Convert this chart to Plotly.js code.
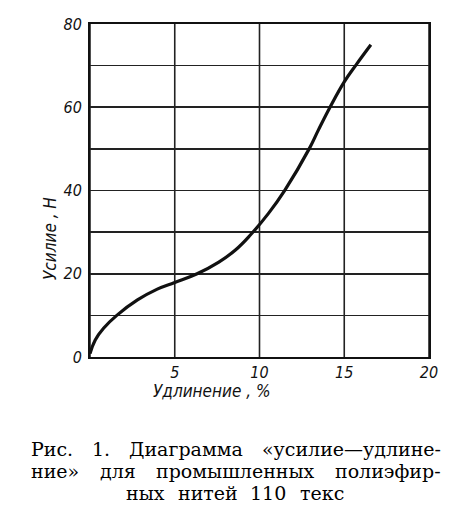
<!DOCTYPE html>
<html>
<head>
<meta charset="utf-8">
<script src="https://cdn.plot.ly/plotly-3.0.1.min.js"></script>
<style>html,body{margin:0;padding:0;background:#fff;}#chart{width:476px;height:513px;}</style>
</head>
<body>
<div id="chart"></div>
<script>
// Elongation, % and force, N
const elongation = [0, 0.31, 0.8, 1.58, 2.8, 3.97, 5.0, 6.32, 7.6, 8.58, 9.46, 10.53, 11.5, 12.93, 13.47, 14.16, 15.0, 15.72, 16.57];
const force =      [0.8, 4.1, 6.9, 10.0, 13.7, 16.3, 17.9, 20.0, 22.8, 25.7, 29.3, 34.5, 40.1, 50.0, 54.5, 60.0, 66.1, 70.3, 75.0];
const xTickVals = [5, 10, 15, 20];
const xGridVals = [0, 5, 10, 15, 20];
const yTickVals = [0, 10, 20, 30, 40, 50, 60, 70, 80];
const yTickText = ['0', '', '20', '', '40', '', '60', '', '80'];
const xTitle = 'Удлинение , %';
const yTitle = 'Усилие , Н';
const captionLines = ['Рис. 1. Диаграмма «усилие—удлине-', 'ние» для промышленных полиэфир-', 'ных нитей 110 текс'];

const tickFont = {family: 'DejaVu Sans Condensed, DejaVu Sans', size: 16, color: '#111', style: 'italic'};
const titleFont = {family: 'DejaVu Sans Condensed, DejaVu Sans', size: 17, color: '#111', style: 'italic'};
const capFamily = 'DejaVu Serif';
const capSize = 19;
const capWeight = 'normal';
const capFont = {family: capFamily, size: capSize, color: '#000', weight: capWeight};

const W = 476, H = 513, L = 90, R = 47, T = 24, B = 156;
const pw = W - L - R, ph = H - T - B;
function px2x(px) { return (px - L) / pw; }
function py2y(py) { return (H - B - py) / ph; }

const annotations = [
  {text: xTitle, xref: 'paper', yref: 'paper', x: px2x(211), y: py2y(391), xanchor: 'center', yanchor: 'middle', showarrow: false, font: titleFont},
  {text: yTitle, xref: 'paper', yref: 'paper', x: px2x(50), y: py2y(239), xanchor: 'center', yanchor: 'middle', textangle: -90, showarrow: false, font: titleFont}
];

// caption layout: justified lines 1-2, centred line 3
const ctx = document.createElement('canvas').getContext('2d');
ctx.font = capWeight + ' ' + capSize + 'px "' + capFamily + '"';
const capY = [449, 471, 493];
const capLeft = 30, capRight = 440;
captionLines.forEach((line, i) => {
  const words = line.split(' ');
  const widths = words.map(w => ctx.measureText(w).width);
  const total = widths.reduce((a, b) => a + b, 0);
  let gap, start;
  if (i < captionLines.length - 1) {
    gap = (capRight - capLeft - total) / (words.length - 1);
    start = capLeft;
  } else {
    gap = 13;
    start = 234 - (total + gap * (words.length - 1)) / 2;
  }
  let xpos = start;
  words.forEach((w, j) => {
    annotations.push({text: w, xref: 'paper', yref: 'paper', x: px2x(xpos), y: py2y(capY[i]), xanchor: 'left', yanchor: 'middle', showarrow: false, font: capFont, borderpad: 0});
    xpos += widths[j] + gap;
  });
});

const data = [{
  x: elongation, y: force, type: 'scatter', mode: 'lines',
  line: {color: '#111', width: 3.2, shape: 'spline', smoothing: 1.2},
  hoverinfo: 'skip'
}];

const layout = {
  width: W, height: H,
  margin: {l: L, r: R, t: T, b: B, pad: 0},
  paper_bgcolor: '#fff', plot_bgcolor: '#fff',
  showlegend: false,
  xaxis: {
    range: [0, 20], tickmode: 'array', tickvals: xTickVals, ticks: '',
    showgrid: false, zeroline: false, showline: true, mirror: true,
    linecolor: '#111', linewidth: 2, tickfont: tickFont, ticklabelstandoff: 0
  },
  yaxis: {
    range: [0, 80], tickmode: 'array', tickvals: yTickVals, ticktext: yTickText, ticks: '',
    showgrid: true, gridcolor: '#222', gridwidth: 1.6, zeroline: false,
    showline: true, mirror: true, linecolor: '#111', linewidth: 2, tickfont: tickFont, ticklabelstandoff: 3
  },
  shapes: xGridVals.map(v => ({type: 'line', xref: 'x', yref: 'paper', x0: v, x1: v, y0: 0, y1: 1, line: {color: '#222', width: 1.6}, layer: 'below'})),
  annotations: annotations
};

document.fonts.load(capWeight + ' ' + capSize + 'px "' + capFamily + '"').finally(() => {
  Plotly.newPlot('chart', data, layout, {displayModeBar: false, staticPlot: true});
});
</script>
</body>
</html>
